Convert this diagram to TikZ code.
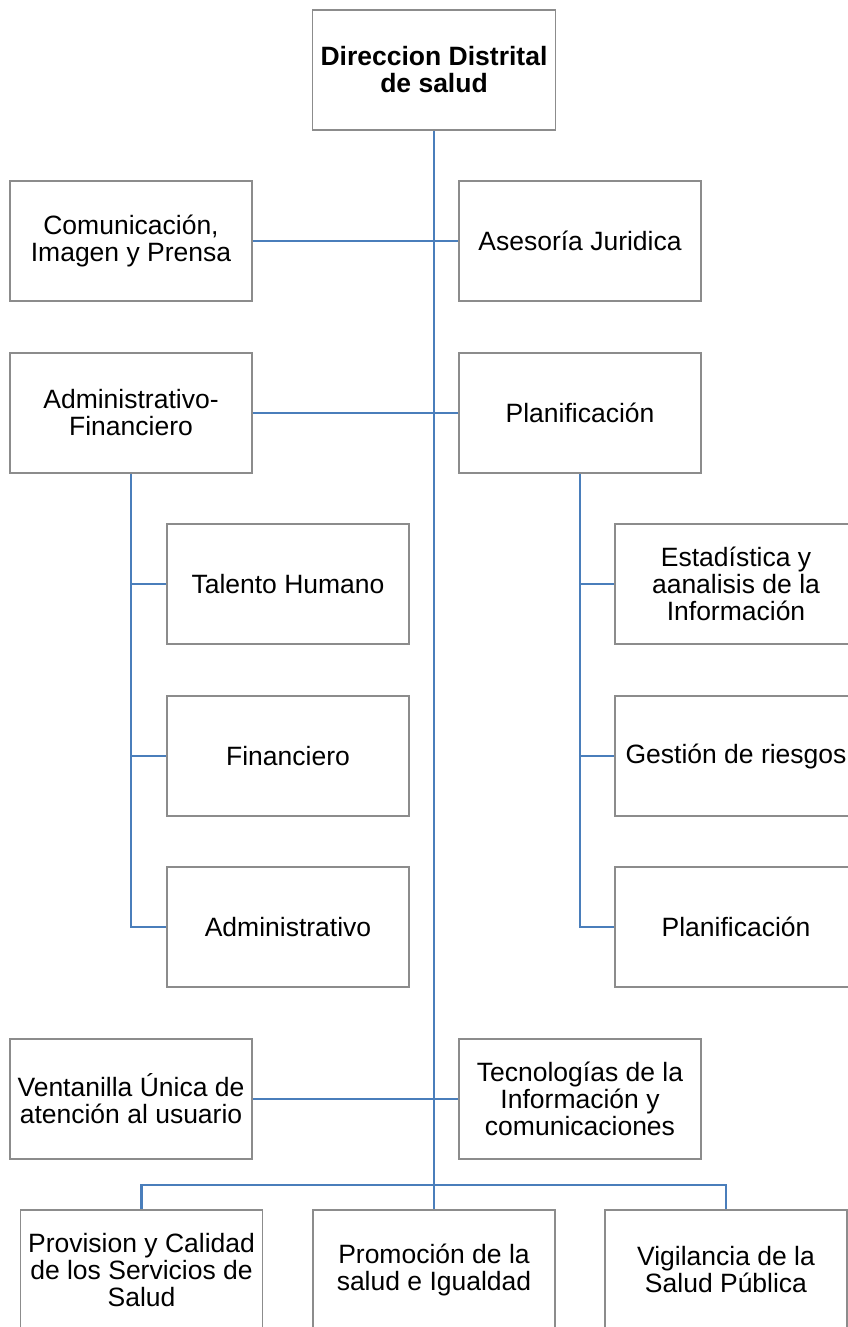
\documentclass[tikz,border=0pt]{standalone}
\usepackage{fontspec}
\setmainfont{Liberation Sans}
\usepackage{xcolor}
\usetikzlibrary{positioning}
\definecolor{enlaceazul}{RGB}{74,126,187}
\definecolor{bordegris}{RGB}{140,140,140}
\tikzset{
  unidad/.style={draw=bordegris, line width=1.5pt, fill=white, minimum width=242pt,
    minimum height=120pt, inner sep=2pt, align=center,
    font=\fontsize{26.5}{27}\selectfont},
  enlace/.style={draw=enlaceazul, line width=2.8pt}
}

\begin{document}
\begin{tikzpicture}[x=1pt, y=-1pt]
\useasboundingbox (0,0) rectangle (848,1327);
\clip (0,0) rectangle (848,1327);

% Direccion
\node[unidad, minimum width=243pt] (dir) at (434,70) {\textbf{Direccion Distrital}\\\textbf{de salud}};

% asesoria y apoyo
\node[unidad] (com) at (131,241) {Comunicación,\\Imagen y Prensa};
\node[unidad] (ase) at (580,241) {Asesoría Juridica};
\node[unidad] (adf) at (131,413) {Administrativo-\\Financiero};
\node[unidad] (pla) at (580,413) {Planificación};

% subunidades administrativas
\node[unidad] (tal) at (288,584) {Talento Humano};
\node[unidad] (fin) at (288,756) {Financiero};
\node[unidad] (adm) at (288,927) {Administrativo};

% subunidades de planificacion
\node[unidad] (est) at (736,584) {Estadística y\\aanalisis de la\\Información};
\node[unidad] (ges) at (736,756) {Gestión de riesgos};
\node[unidad] (plb) at (736,927) {Planificación};

\node[unidad] (ven) at (131,1099) {Ventanilla Única de\\atención al usuario};
\node[unidad] (tec) at (580,1099) {Tecnologías de la\\Información y\\comunicaciones};

% unidades operativas
\node[unidad] (pro) at (141.5,1270) {Provision y Calidad\\de los Servicios de\\Salud};
\node[unidad] (prm) at (434,1270) {Promoción de la\\salud e Igualdad};
\node[unidad] (vig) at (726,1270) {Vigilancia de la\\Salud Pública};

\coordinate (bus) at (434,1185);

% conectores
\draw[enlace] (dir.south) -- (bus);
\draw[enlace] (com.east) -- (ase.west);
\draw[enlace] (adf.east) -- (pla.west);
\draw[enlace] (ven.east) -- (tec.west);
\draw[enlace] (pro.north) |- (bus) -| (vig.north);
\draw[enlace] (bus) -- (prm.north);

\draw[enlace] (adf.south) |- (adm.west);
\draw[enlace] (tal.west) -- (tal.west -| adf.south);
\draw[enlace] (fin.west) -- (fin.west -| adf.south);

\draw[enlace] (pla.south) |- (plb.west);
\draw[enlace] (est.west) -- (est.west -| pla.south);
\draw[enlace] (ges.west) -- (ges.west -| pla.south);
\end{tikzpicture}
\end{document}
